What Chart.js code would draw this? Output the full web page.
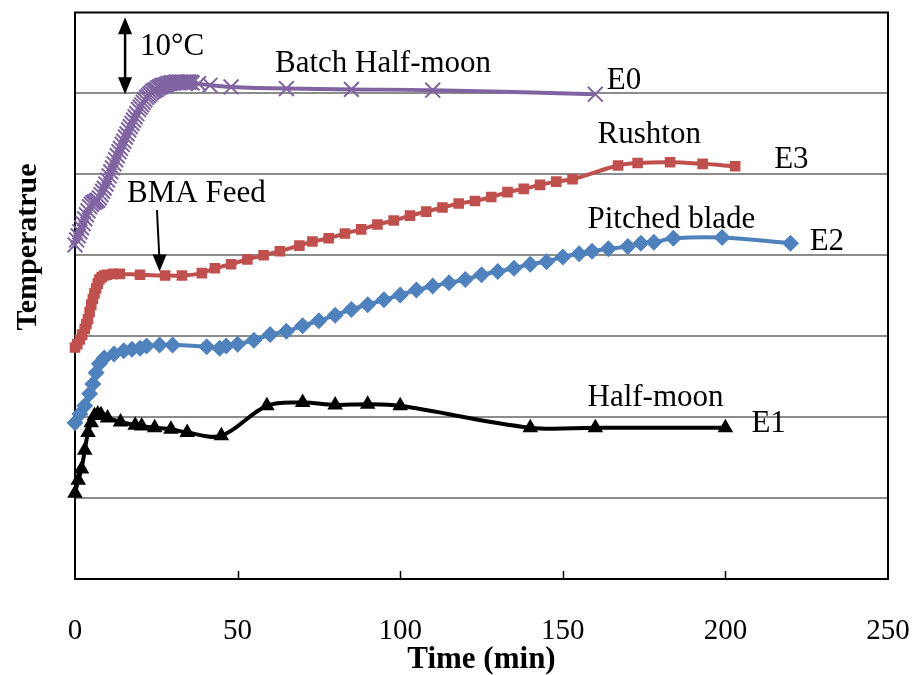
<!DOCTYPE html>
<html>
<head>
<meta charset="utf-8">
<title>Temperature profiles</title>
<script src="https://cdn.jsdelivr.net/npm/chart.js@4.4.1/dist/chart.umd.min.js"></script>
<style>
    body { margin: 0; background: #ffffff; }
    canvas { display: block; }
</style>
</head>
<body>
<canvas id="tempChart" width="916" height="675"></canvas>
<script>
// E0 - batch half-moon (dense logging during heat-up, sparse afterwards)
const e0Time = [0, 0.5, 1, 1.5, 2, 2.5, 3, 3.5, 4, 4.5, 5, 5.5, 6, 6.5, 7, 7.5, 8, 8.5, 9, 9.5,
    10, 10.5, 11, 11.5, 12, 12.5, 13, 13.5, 14, 14.5, 15, 15.5, 16, 16.5, 17, 17.5, 18, 18.5, 19, 19.5,
    20, 20.5, 21, 21.5, 22, 22.5, 23, 23.5, 24, 24.5, 25, 25.5, 26, 26.5, 27, 27.5, 28, 28.5, 29, 29.5,
    30, 30.5, 31, 31.5, 32, 32.5, 33, 33.5, 34, 34.5, 35, 35.5, 36, 38, 41.5, 48, 65, 85, 110, 160];
const e0Temp = [41.3, 41.9, 42.4, 42.9, 43.4, 43.9, 44.5, 45.0, 45.5, 46.0, 46.3, 46.5, 46.6, 46.7, 46.8, 47.1, 47.5, 47.9, 48.3, 48.8,
    49.3, 49.8, 50.3, 50.8, 51.3, 51.8, 52.3, 52.8, 53.2, 53.7, 54.1, 54.6, 55.0, 55.5, 55.9, 56.3, 56.7, 57.1, 57.5, 58.0,
    58.3, 58.6, 58.9, 59.2, 59.5, 59.7, 59.9, 60.1, 60.3, 60.4, 60.5, 60.7, 60.8, 60.9, 61.0, 61.0, 61.1, 61.2, 61.2, 61.3,
    61.3, 61.3, 61.4, 61.4, 61.4, 61.4, 61.4, 61.4, 61.4, 61.4, 61.4, 61.4, 61.3, 61.2, 61.0, 60.8, 60.6, 60.5, 60.4, 59.9];

// E3 - Rushton
const e3Time = [0, 0.7, 1.5, 2.2, 3, 3.5, 4, 4.5, 5, 5.5, 6, 6.5, 7, 7.5, 8.2, 9, 9.8, 11.7, 13.8, 20, 27.7, 32.9,
    39, 43, 48, 53, 58, 63, 69, 73, 78, 83, 88, 93, 98, 103, 108, 113, 118, 123, 128, 133, 138, 143, 148, 153,
    167, 173, 183, 193, 203];
const e3Temp = [28.6, 29.0, 29.6, 30.2, 30.9, 31.5, 32.1, 33.0, 33.9, 34.6, 35.3, 35.9, 36.5, 37.0, 37.3, 37.5, 37.6, 37.7, 37.7, 37.6, 37.5, 37.5,
    37.8, 38.4, 38.9, 39.5, 40.0, 40.5, 41.2, 41.7, 42.1, 42.7, 43.2, 43.8, 44.3, 44.9, 45.4, 45.9, 46.4, 46.7, 47.2, 47.8, 48.2, 48.7, 49.1, 49.4,
    51.1, 51.4, 51.5, 51.3, 51.0];

// E2 - pitched blade
const e2Time = [0, 1.5, 3, 4.5, 5.5, 6.5, 7.5, 9, 12, 15, 17.5, 20, 22, 26, 30, 40.5, 44.5, 46.5, 50, 55, 60, 65, 70, 75,
    80, 85, 90, 95, 100, 105, 110, 115, 120, 125, 130, 135, 140, 145, 150, 155, 159, 164, 170, 174, 178, 184, 199, 220];
const e2Temp = [19.3, 20.4, 21.4, 22.9, 24.1, 25.5, 26.6, 27.3, 27.8, 28.2, 28.4, 28.5, 28.8, 28.9, 28.9, 28.7, 28.5, 28.8, 29.0, 29.5, 30.2, 30.6, 31.3, 31.9,
    32.6, 33.3, 33.9, 34.5, 35.1, 35.7, 36.2, 36.6, 37.0, 37.6, 38.0, 38.4, 38.9, 39.2, 39.8, 40.2, 40.5, 40.8, 41.1, 41.5, 41.6, 42.1, 42.2, 41.5];

// E1 - half-moon
const e1Time = [0, 1, 2, 3, 4, 5, 6, 7, 8, 10, 14, 18.5, 20.5, 24.5, 29.5, 34.5, 45, 59, 70, 80, 90, 100, 140, 160, 200];
const e1Temp = [10.6, 12.2, 13.6, 15.9, 18.1, 19.3, 20.2, 20.4, 20.3, 19.9, 19.4, 19.0, 18.9, 18.7, 18.5, 18.1, 17.7, 21.4, 21.8, 21.5, 21.6, 21.4, 18.7, 18.7, 18.7];

const xTicks = [0, 50, 100, 150, 200, 250];

// text annotations, anchored at (time, temperature), left aligned
const noteText = ['10°C', 'Batch Half-moon', 'E0', 'Rushton', 'E3', 'BMA Feed', 'Pitched blade', 'E2', 'Half-moon', 'E1'];
const noteTime = [20, 61.5, 163.5, 160.7, 215, 16, 157.6, 225.9, 157.6, 208];
const noteTemp = [65.7, 63.6, 61.6, 54.9, 51.8, 47.6, 44.4, 41.7, 22.4, 19.2];

const SERIF = '"Liberation Serif", "Times New Roman", serif';

const toPoints = (xs, ys) => xs.map((x, i) => ({ x: x, y: ys[i] }));

function drawHead(ctx, x, y, dir) {
    // filled arrow head, dir = 1 points down, -1 points up
    ctx.beginPath();
    ctx.moveTo(x, y);
    ctx.lineTo(x - 7, y - dir * 17);
    ctx.lineTo(x + 7, y - dir * 17);
    ctx.closePath();
    ctx.fill();
}

const decorPlugin = {
    id: 'decor',
    beforeDatasetsDraw(chart) {
        const { ctx, chartArea: a, scales: { x } } = chart;
        ctx.save();
        ctx.strokeStyle = '#000';
        ctx.lineWidth = 1.5;
        xTicks.slice(1, -1).forEach(v => {
            const px = Math.round(x.getPixelForValue(v)) + 0.5;
            ctx.beginPath();
            ctx.moveTo(px, a.bottom);
            ctx.lineTo(px, a.bottom - 8);
            ctx.stroke();
        });
        ctx.lineWidth = 2;
        ctx.strokeRect(a.left, a.top, a.right - a.left, a.bottom - a.top);
        ctx.restore();
    },
    afterDatasetsDraw(chart) {
        const { ctx, scales: { x, y } } = chart;
        ctx.save();
        ctx.fillStyle = '#000';
        ctx.strokeStyle = '#000';
        ctx.font = '31px ' + SERIF;
        ctx.textAlign = 'left';
        ctx.textBaseline = 'middle';
        noteText.forEach((t, i) => {
            ctx.fillText(t, x.getPixelForValue(noteTime[i]), y.getPixelForValue(noteTemp[i]));
        });

        // 10 °C scale arrow
        const ax = x.getPixelForValue(15.4);
        const aTop = y.getPixelForValue(69.4);
        const aBot = y.getPixelForValue(59.9);
        ctx.lineWidth = 2.5;
        ctx.beginPath();
        ctx.moveTo(ax, aTop + 10);
        ctx.lineTo(ax, aBot - 10);
        ctx.stroke();
        drawHead(ctx, ax, aTop, -1);
        drawHead(ctx, ax, aBot, 1);

        // BMA feed arrow
        const bx0 = x.getPixelForValue(25.2), by0 = y.getPixelForValue(45.6);
        const bx1 = x.getPixelForValue(26.0), by1 = y.getPixelForValue(38.0);
        ctx.lineWidth = 2;
        ctx.beginPath();
        ctx.moveTo(bx0, by0);
        ctx.lineTo(bx1, by1 - 10);
        ctx.stroke();
        drawHead(ctx, bx1, by1, 1);

        // y axis title
        ctx.font = 'bold 30px ' + SERIF;
        ctx.textAlign = 'center';
        ctx.translate(28, 247);
        ctx.rotate(-Math.PI / 2);
        ctx.fillText('Temperatrue', 0, 0);
        ctx.restore();
    }
};

const series = (data, color, style, radius) => ({
    data: data,
    borderColor: color,
    backgroundColor: color,
    borderWidth: 4,
    pointStyle: style,
    pointRadius: radius,
    pointBorderWidth: style === 'crossRot' ? 2 : 0,
    pointBackgroundColor: color,
    pointBorderColor: color,
    tension: 0.35,
    clip: 12
});

new Chart(document.getElementById('tempChart'), {
    type: 'line',
    data: {
        datasets: [
            series(toPoints(e0Time, e0Temp), '#8064A2', 'crossRot', 10.5),
            series(toPoints(e3Time, e3Temp), '#C0504D', 'rect', 7.5),
            series(toPoints(e2Time, e2Temp), '#4F81BD', 'rectRot', 8.5),
            series(toPoints(e1Time, e1Temp), '#000000', 'triangle', 9)
        ]
    },
    options: {
        responsive: false,
        animation: false,
        devicePixelRatio: 1,
        layout: { padding: { top: 11, right: 28, left: 0, bottom: 0 } },
        plugins: { legend: { display: false }, tooltip: { enabled: false } },
        scales: {
            x: {
                type: 'linear',
                min: 0,
                max: 250,
                afterBuildTicks: s => { s.ticks = xTicks.map(v => ({ value: v })); },
                afterFit: s => { s.height = 96; s.paddingLeft = 0; s.paddingRight = 0; },
                grid: { display: false, drawTicks: false },
                border: { display: false },
                ticks: { color: '#000', padding: 35, font: { family: SERIF, size: 29 } },
                title: {
                    display: true,
                    text: 'Time (min)',
                    color: '#000',
                    padding: { top: 0, bottom: 0 },
                    font: { family: SERIF, size: 31, weight: 'bold', lineHeight: 1 }
                }
            },
            y: {
                min: 0,
                max: 70,
                afterFit: s => { s.width = 75; s.paddingTop = 0; s.paddingBottom = 0; },
                ticks: { display: false, stepSize: 10 },
                border: { display: false },
                grid: {
                    drawTicks: false,
                    lineWidth: 2,
                    color: c => (c.tick.value === 0 || c.tick.value === 70) ? 'rgba(0,0,0,0)' : '#8c8c8c'
                }
            }
        }
    },
    plugins: [decorPlugin]
});
</script>
</body>
</html>
